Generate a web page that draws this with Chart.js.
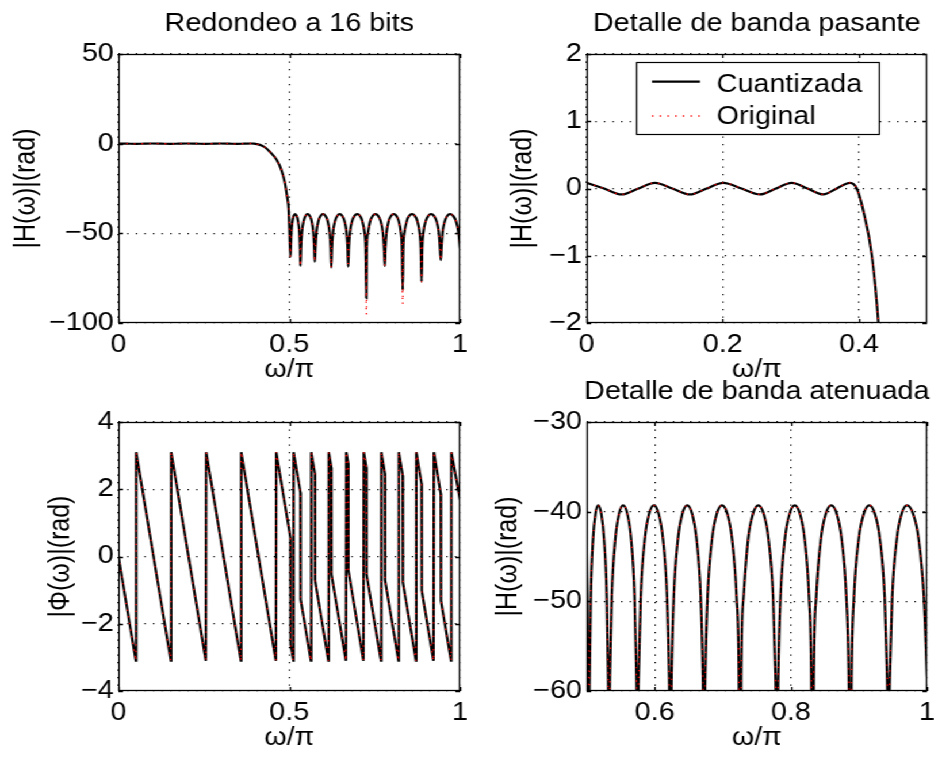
<!DOCTYPE html>
<html>
<head>
<meta charset="utf-8">
<title>Redondeo a 16 bits</title>
<script src="https://cdn.jsdelivr.net/npm/chart.js@4.4.1/dist/chart.umd.min.js"></script>
<style>
  html, body { margin: 0; padding: 0; background: #fff; }
  /* the original figure is stretched horizontally, so draw narrow and scale */
  #fig { position: absolute; left: 0; top: 0; width: 812px; height: 760px; transform: scaleX(1.1502); transform-origin: 0 0; }
  #fig canvas { position: absolute; }
</style>
</head>
<body>
<div id="fig">
  <canvas id="magFull" width="406" height="392" style="left:0px;top:0px;width:406px;height:392px"></canvas>
  <canvas id="magPass" width="406" height="392" style="left:406px;top:0px;width:406px;height:392px"></canvas>
  <canvas id="phase" width="406" height="392" style="left:0px;top:368px;width:406px;height:392px"></canvas>
  <canvas id="magStop" width="406" height="392" style="left:406px;top:368px;width:406px;height:392px"></canvas>
</div>
<script>
// passband + transition, omega/pi and dB
var passFreq = [0, 0.0257, 0.0514, 0.0759, 0.1003, 0.1260, 0.1518, 0.1762, 0.2007, 0.2276,
  0.2546, 0.2779, 0.3012, 0.3245, 0.3477, 0.3673, 0.3869, 0.3967, 0.4064, 0.4190,
  0.4285, 0.4430, 0.4630, 0.4776, 0.4873, 0.4940, 0.4980, 0.5005];
var passDb = [0.085, 0, -0.088, 0, 0.085, 0, -0.088, 0, 0.085, 0,
  -0.088, 0, 0.085, 0, -0.088, 0, 0.085, 0, -0.33, -1.0,
  -2.0, -4.5, -9.0, -15.0, -22.0, -30.0, -36.0, -48.0];

// stopband lobes, one line per lobe (null first)
var stopFreq = [0.5034,
  0.5044, 0.5061, 0.5095, 0.5129, 0.5170, 0.5217, 0.5256, 0.5296, 0.5316, 0.5327,
  0.5342, 0.5369, 0.5422, 0.5474, 0.5537, 0.5600, 0.5653, 0.5705, 0.5732, 0.5747,
  0.5764, 0.5795, 0.5855, 0.5916, 0.5988, 0.6060, 0.6121, 0.6181, 0.6212, 0.6230,
  0.6248, 0.6280, 0.6342, 0.6404, 0.6478, 0.6552, 0.6614, 0.6676, 0.6708, 0.6724,
  0.6742, 0.6776, 0.6843, 0.6909, 0.6989, 0.7069, 0.7135, 0.7202, 0.7236, 0.7256,
  0.7270, 0.7305, 0.7373, 0.7441, 0.7522, 0.7603, 0.7671, 0.7739, 0.7774, 0.7798,
  0.7814, 0.7848, 0.7913, 0.7979, 0.8057, 0.8135, 0.8201, 0.8266, 0.8300, 0.8320,
  0.8336, 0.8372, 0.8441, 0.8510, 0.8593, 0.8676, 0.8745, 0.8814, 0.8850, 0.8872,
  0.8891, 0.8927, 0.8997, 0.9068, 0.9152, 0.9236, 0.9307, 0.9377, 0.9413, 0.9434,
  0.9453, 0.9488, 0.9556, 0.9624, 0.9705, 0.9798, 0.9876, 0.9953, 1.0];
var stopDbQuant = [-63.0,
  -58.5, -49.5, -43.0, -40.3, -39.3, -40.3, -43.0, -49.5, -58.5, -68.2,
  -58.5, -49.5, -43.0, -40.3, -39.3, -40.3, -43.0, -49.5, -58.5, -65.8,
  -58.5, -49.5, -43.0, -40.3, -39.3, -40.3, -43.0, -49.5, -58.5, -69.1,
  -58.5, -49.5, -43.0, -40.3, -39.3, -40.3, -43.0, -49.5, -58.5, -68.6,
  -58.5, -49.5, -43.0, -40.3, -39.3, -40.3, -43.0, -49.5, -58.5, -86.2,
  -58.5, -49.5, -43.0, -40.3, -39.3, -40.3, -43.0, -49.5, -58.5, -68.2,
  -58.5, -49.5, -43.0, -40.3, -39.3, -40.3, -43.0, -49.5, -58.5, -81.6,
  -58.5, -49.5, -43.0, -40.3, -39.3, -40.3, -43.0, -49.5, -58.5, -77.0,
  -58.5, -49.5, -43.0, -40.3, -39.3, -40.3, -43.0, -49.5, -58.5, -64.9,
  -58.5, -49.5, -43.0, -40.3, -39.3, -40.3, -43.0, -49.5, -58.4];
var stopDbOrig = [-63.0,
  -58.5, -49.5, -43.0, -40.3, -39.3, -40.3, -43.0, -49.5, -58.5, -68.2,
  -58.5, -49.5, -43.0, -40.3, -39.3, -40.3, -43.0, -49.5, -58.5, -65.8,
  -58.5, -49.5, -43.0, -40.3, -39.3, -40.3, -43.0, -49.5, -58.5, -69.1,
  -58.5, -49.5, -43.0, -40.3, -39.3, -40.3, -43.0, -49.5, -58.5, -68.6,
  -58.5, -49.5, -43.0, -40.3, -39.3, -40.3, -43.0, -49.5, -58.5, -95.2,
  -58.5, -49.5, -43.0, -40.3, -39.3, -40.3, -43.0, -49.5, -58.5, -68.2,
  -58.5, -49.5, -43.0, -40.3, -39.3, -40.3, -43.0, -49.5, -58.5, -89.4,
  -58.5, -49.5, -43.0, -40.3, -39.3, -40.3, -43.0, -49.5, -58.5, -77.0,
  -58.5, -49.5, -43.0, -40.3, -39.3, -40.3, -43.0, -49.5, -58.5, -64.9,
  -58.5, -49.5, -43.0, -40.3, -39.3, -40.3, -43.0, -49.5, -58.4];

// wrapped phase (rad)
var phaseFreq = [0, 0.0508, 0.0518, 0.1533, 0.1543, 0.2558, 0.2568, 0.3583, 0.3593, 0.4608, 0.4618,
  0.5034, 0.5040, 0.5122, 0.5128, 0.5327, 0.5333, 0.5633, 0.5643, 0.5747, 0.5753,
  0.6145, 0.6155, 0.6230, 0.6236, 0.6658, 0.6668, 0.6724, 0.6730, 0.7171, 0.7181,
  0.7256, 0.7262, 0.7684, 0.7694, 0.7798, 0.7804, 0.8196, 0.8206, 0.8320, 0.8326,
  0.8709, 0.8719, 0.8872, 0.8878, 0.9222, 0.9232, 0.9434, 0.9440, 0.9735, 0.9745, 1.0];
var phaseRad = [0, -3.1, 3.1, -3.1, 3.1, -3.1, 3.1, -3.1, 3.1, -3.1, 3.1,
  0.56, -2.62, -3.1, 3.1, 1.90, -1.28, -3.1, 3.1, 2.47, -0.70,
  -3.1, 3.1, 2.65, -0.53, -3.1, 3.1, 2.77, -0.41, -3.1, 3.1,
  2.65, -0.53, -3.1, 3.1, 2.47, -0.70, -3.1, 3.1, 2.41, -0.77,
  -3.1, 3.1, 2.17, -1.01, -3.1, 3.1, 1.87, -1.31, -3.1, 3.1, 1.68];

// tick labels per panel
var fullXTicks = [0, 0.5, 1];
var fullYTicks = [-100, -50, 0, 50];
var passXTicks = [0, 0.2, 0.4];
var passYTicks = [-2, -1, 0, 1, 2];
var phaseXTicks = [0, 0.5, 1];
var phaseYTicks = [-4, -2, 0, 2, 4];
var stopXTicks = [0.6, 0.8, 1];
var stopYTicks = [-60, -50, -40, -30];

var FONT = {family: "'Liberation Sans', Arial, Helvetica, sans-serif", size: 25, lineHeight: 1.2};

function toPoints(xs, ys) {
  return xs.map(function(x, i) { return {x: x, y: ys[i]}; });
}
var magFreq = passFreq.concat(stopFreq);
var quantPts = toPoints(magFreq, passDb.concat(stopDbQuant));
var origPts = toPoints(magFreq, passDb.concat(stopDbOrig));
var phasePts = toPoints(phaseFreq, phaseRad);

function series(quant, orig, smooth) {
  var common = {pointRadius: 0, fill: false, clip: 0, tension: 0,
    cubicInterpolationMode: smooth ? 'monotone' : 'default'};
  return [
    Object.assign({label: 'Cuantizada', data: quant, borderColor: '#000000', borderWidth: 2.2, order: 1}, common),
    Object.assign({label: 'Original', data: orig, borderColor: '#ff0000', borderWidth: 1.3, borderDash: [1.3, 5.4], order: 0}, common)
  ];
}

function minus(v) {
  return String(v).replace('-', '\u2212');
}

// box, inward ticks, title and legend the matlab way
var matlabFrame = {
  id: 'matlabFrame',
  afterDatasetsDraw: function(chart, args, opts) {
    var ctx = chart.ctx, a = chart.chartArea, sx = chart.scales.x, sy = chart.scales.y;
    ctx.save();
    ctx.strokeStyle = '#000';
    ctx.lineWidth = 1.3;
    ctx.setLineDash([]);
    ctx.strokeRect(a.left + 0.5, a.top + 0.5, a.right - a.left - 1, a.bottom - a.top - 1);
    ctx.beginPath();
    sx.ticks.forEach(function(t) {
      var px = Math.round(sx.getPixelForValue(t.value)) + 0.5;
      ctx.moveTo(px, a.bottom); ctx.lineTo(px, a.bottom - 4);
      ctx.moveTo(px, a.top); ctx.lineTo(px, a.top + 4);
    });
    sy.ticks.forEach(function(t) {
      var py = Math.round(sy.getPixelForValue(t.value)) + 0.5;
      ctx.moveTo(a.left, py); ctx.lineTo(a.left + 4, py);
      ctx.moveTo(a.right, py); ctx.lineTo(a.right - 4, py);
    });
    ctx.stroke();

    ctx.font = FONT.size + 'px ' + FONT.family;
    ctx.fillStyle = '#000';
    if (opts.title) {
      ctx.textAlign = 'center';
      ctx.textBaseline = 'alphabetic';
      ctx.fillText(opts.title, (a.left + a.right) / 2, a.top - 23.5);
    }
    if (opts.legend) {
      var bx = a.left + 42.7, by = a.top + 8.3;
      ctx.fillStyle = '#fff';
      ctx.fillRect(bx, by, 211, 72);
      ctx.lineWidth = 1.2;
      ctx.strokeRect(Math.round(bx) + 0.5, Math.round(by) + 0.5, 211, 72);
      var rows = [[27.7, 37.7], [62, 70]];
      chart.data.datasets.forEach(function(ds, i) {
        ctx.save();
        ctx.strokeStyle = ds.borderColor;
        ctx.lineWidth = ds.borderWidth;
        ctx.setLineDash(ds.borderDash || []);
        ctx.beginPath();
        ctx.moveTo(a.left + 56.9, a.top + rows[i][0]);
        ctx.lineTo(a.left + 98.6, a.top + rows[i][0]);
        ctx.stroke();
        ctx.restore();
        ctx.fillStyle = '#000';
        ctx.textAlign = 'left';
        ctx.textBaseline = 'alphabetic';
        ctx.fillText(ds.label, a.left + 113.1, a.top + rows[i][1]);
      });
    }
    ctx.restore();
  }
};

function axis(min, max, ticks, title, isX, p) {
  return {
    type: 'linear',
    min: min,
    max: max,
    afterBuildTicks: function(s) { s.ticks = ticks.map(function(v) { return {value: v}; }); },
    afterFit: function(s) {
      if (isX) { s.height = 69; } else { s.width = p.yAxisWidth; }
      s.paddingLeft = 0; s.paddingRight = 0; s.paddingTop = 0; s.paddingBottom = 0;
    },
    grid: {color: '#000', lineWidth: 1.2, drawTicks: false},
    border: {display: false, dash: [1.2, 6.3]},
    ticks: {color: '#000', font: FONT, padding: isX ? 7 : 4, autoSkip: false, maxRotation: 0, callback: minus},
    title: {display: true, text: title, color: '#000', font: FONT,
      padding: isX ? {top: 0, bottom: 7} : {top: p.yPad, bottom: 0}}
  };
}

function makePanel(id, p) {
  return new Chart(document.getElementById(id), {
    type: 'line',
    data: {datasets: p.datasets},
    options: {
      responsive: false,
      animation: false,
      events: [],
      layout: {padding: {top: 54, right: 6, bottom: 0, left: 0}},
      plugins: {
        legend: {display: false},
        tooltip: {enabled: false},
        matlabFrame: {title: p.title, legend: p.legend}
      },
      scales: {
        x: axis(p.xMin, p.xMax, p.xTicks, '\u03c9/\u03c0', true, p),
        y: axis(p.yMin, p.yMax, p.yTicks, p.yLabel, false, p)
      }
    },
    plugins: [matlabFrame]
  });
}

makePanel('magFull', {
  title: 'Redondeo a 16 bits', yLabel: '|H(\u03c9)|(rad)', yAxisWidth: 103, yPad: 7.7,
  xMin: 0, xMax: 1, xTicks: fullXTicks, yMin: -100, yMax: 50, yTicks: fullYTicks,
  datasets: series(quantPts, origPts, true)
});
makePanel('magPass', {
  title: 'Detalle de banda pasante', yLabel: '|H(\u03c9)|(rad)', yAxisWidth: 104, yPad: 34.6, legend: true,
  xMin: 0, xMax: 0.5, xTicks: passXTicks, yMin: -2, yMax: 2, yTicks: passYTicks,
  datasets: series(quantPts, origPts, true)
});
makePanel('phase', {
  title: '', yLabel: '|\u03a6(\u03c9)|(rad)', yAxisWidth: 103, yPad: 38.1,
  xMin: 0, xMax: 1, xTicks: phaseXTicks, yMin: -4, yMax: 4, yTicks: phaseYTicks,
  datasets: series(phasePts, phasePts, false)
});
makePanel('magStop', {
  title: 'Detalle de banda atenuada', yLabel: '|H(\u03c9)|(rad)', yAxisWidth: 104, yPad: 21.6,
  xMin: 0.5, xMax: 1, xTicks: stopXTicks, yMin: -60, yMax: -30, yTicks: stopYTicks,
  datasets: series(quantPts, origPts, true)
});
</script>
</body>
</html>
